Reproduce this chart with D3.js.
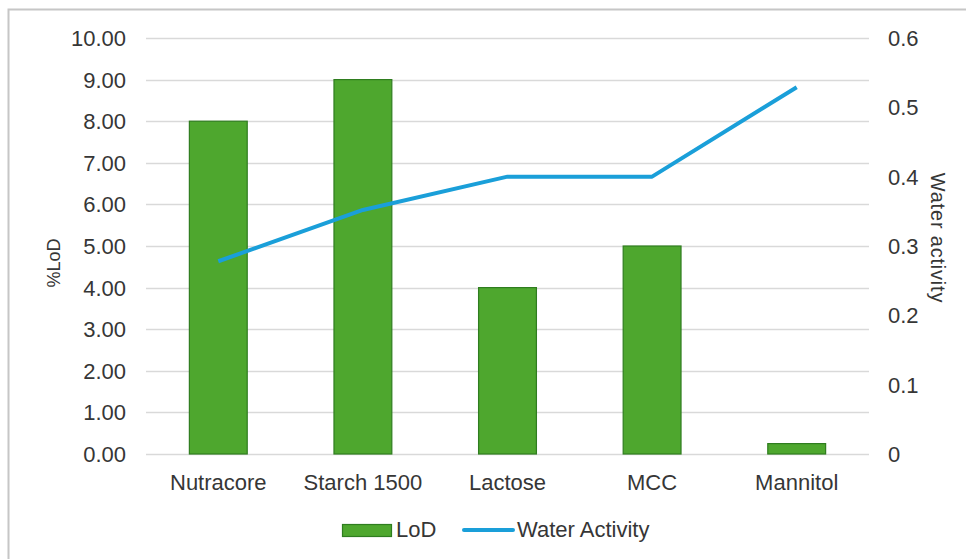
<!DOCTYPE html>
<html>
<head>
<meta charset="utf-8">
<style>
  body { margin: 0; background: #fff; }
  svg text { font-family: "Liberation Sans", Arial, sans-serif; fill: #363636; }
</style>
</head>
<body>
<svg id="chart" width="966" height="559"></svg>
<script src="https://cdn.jsdelivr.net/npm/d3@7"></script>
<script>
var categories = ['Nutracore', 'Starch 1500', 'Lactose', 'MCC', 'Mannitol'];
var lod = [8.0, 9.0, 4.0, 5.0, 0.25];
var waterActivity = [0.278, 0.352, 0.4, 0.4, 0.529];
var leftTicks = [0, 1, 2, 3, 4, 5, 6, 7, 8, 9, 10];
var rightTicks = [0, 0.1, 0.2, 0.3, 0.4, 0.5, 0.6];

var svg = d3.select('#chart');
var plotLeft = 146, plotRight = 869, plotTop = 38, plotBottom = 454;
var fontSize = '22px';

// chart frame
svg.append('rect')
    .attr('x', 8.5).attr('y', 9.5).attr('width', 1000).attr('height', 600)
    .attr('fill', 'none').attr('stroke', '#c6c6c6').attr('stroke-width', 2);

var x = d3.scaleBand().domain(categories).range([plotLeft, plotRight]).paddingInner(0.6).paddingOuter(0.3);
var yL = d3.scaleLinear().domain([0, 10]).range([plotBottom, plotTop]);
var yR = d3.scaleLinear().domain([0, 0.6]).range([plotBottom, plotTop]);

// gridlines
svg.append('g').selectAll('line').data(leftTicks).enter()
    .append('line')
    .attr('x1', plotLeft).attr('x2', plotRight)
    .attr('y1', function (d) { return Math.round(yL(d)) + 0.5; })
    .attr('y2', function (d) { return Math.round(yL(d)) + 0.5; })
    .attr('stroke', '#d9d9d9').attr('stroke-width', 1.3);

// left axis labels
svg.append('g').selectAll('text').data(leftTicks).enter()
    .append('text')
    .attr('x', 126).attr('y', function (d) { return yL(d); })
    .attr('dy', '0.36em').attr('text-anchor', 'end')
    .style('font-size', fontSize)
    .text(function (d) { return d3.format('.2f')(d); });

// right axis labels
svg.append('g').selectAll('text').data(rightTicks).enter()
    .append('text')
    .attr('x', 888).attr('y', function (d) { return yR(d); })
    .attr('dy', '0.36em')
    .style('font-size', fontSize)
    .text(function (d) { return d === 0 ? '0' : d3.format('.1f')(d); });

// bars
svg.append('g').selectAll('rect').data(categories).enter()
    .append('rect')
    .attr('x', function (d) { return x(d); })
    .attr('y', function (d, i) { return yL(lod[i]); })
    .attr('width', x.bandwidth())
    .attr('height', function (d, i) { return plotBottom - yL(lod[i]); })
    .attr('fill', '#4ea72e').attr('stroke', '#2f7d1f').attr('stroke-width', 1.2);

// category labels
svg.append('g').selectAll('text').data(categories).enter()
    .append('text')
    .attr('x', function (d) { return x(d) + x.bandwidth() / 2; })
    .attr('y', 490).attr('text-anchor', 'middle')
    .style('font-size', fontSize)
    .text(function (d) { return d; });

// water activity line
var line = d3.line()
    .x(function (d, i) { return x(categories[i]) + x.bandwidth() / 2; })
    .y(function (d) { return yR(d); });
svg.append('path').datum(waterActivity)
    .attr('d', line).attr('fill', 'none')
    .attr('stroke', '#1a9fd9').attr('stroke-width', 4).attr('stroke-linejoin', 'round');

// axis titles
svg.append('text')
    .attr('transform', 'translate(60,263) rotate(-90)')
    .attr('text-anchor', 'middle').style('font-size', '18px')
    .text('%LoD');
svg.append('text')
    .attr('transform', 'translate(931,238) rotate(90)')
    .attr('text-anchor', 'middle').style('font-size', '20px')
    .style('letter-spacing', '0.8px')
    .text('Water activity');

// legend
var legend = svg.append('g');
legend.append('rect')
    .attr('x', 342.5).attr('y', 524.5).attr('width', 49).attr('height', 12)
    .attr('fill', '#4ea72e').attr('stroke', '#2f7d1f').attr('stroke-width', 1.2);
legend.append('text').attr('x', 396).attr('y', 537).style('font-size', fontSize).text('LoD');
legend.append('line')
    .attr('x1', 464).attr('x2', 513).attr('y1', 530).attr('y2', 530)
    .attr('stroke', '#1a9fd9').attr('stroke-width', 4).attr('stroke-linecap', 'round');
legend.append('text').attr('x', 517).attr('y', 537).style('font-size', fontSize).text('Water Activity');
</script>
</body>
</html>
